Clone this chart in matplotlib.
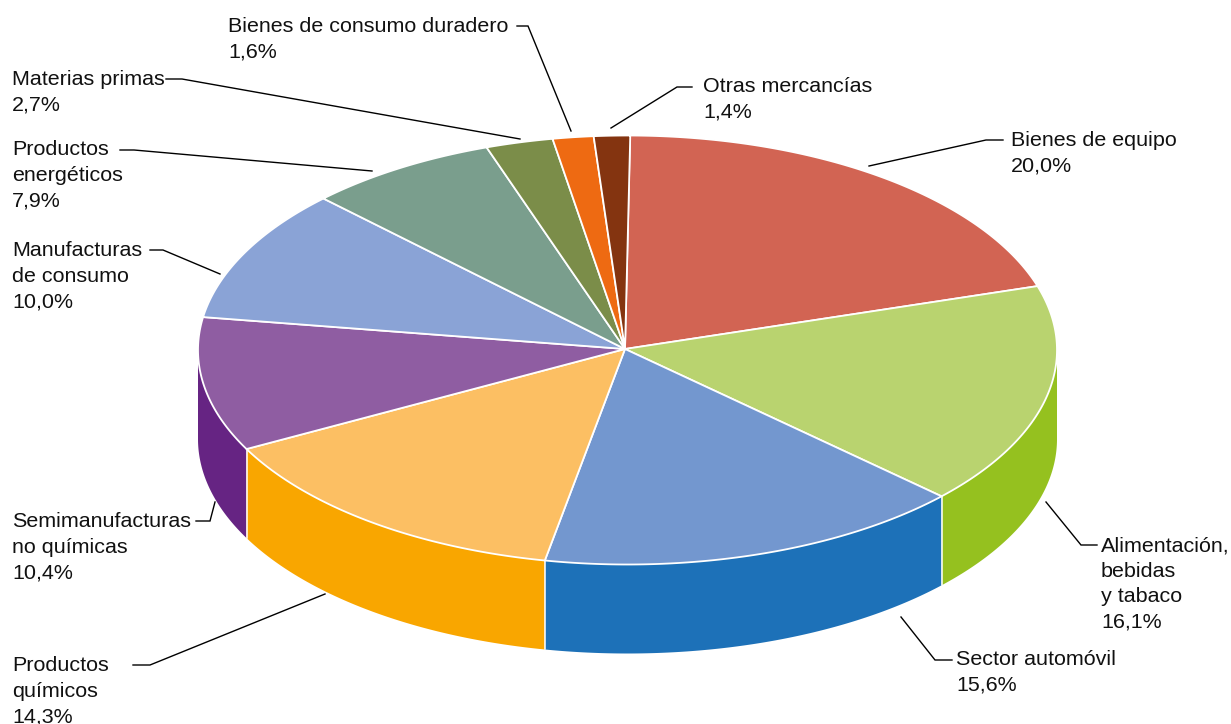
import numpy as np
import matplotlib
matplotlib.use("Agg")
import matplotlib.pyplot as plt
from matplotlib.patches import Polygon

categories = ["Bienes de equipo", "Alimentación,\nbebidas\ny tabaco", "Sector automóvil",
              "Productos\nquímicos", "Semimanufacturas\nno químicas", "Manufacturas\nde consumo",
              "Productos\nenergéticos", "Materias primas", "Bienes de consumo duradero",
              "Otras mercancías"]
values = [20.0, 16.1, 15.6, 14.3, 10.4, 10.0, 7.9, 2.7, 1.6, 1.4]
top_colors = ["#D26453", "#B9D36F", "#7397CF", "#FCBF63", "#8F5DA2",
              "#8AA3D6", "#7A9E8D", "#7B8D49", "#EE6A12", "#843410"]
side_colors = ["#C04A38", "#95C11F", "#1D71B8", "#F9A600", "#662483",
               "#5F7FC0", "#5A8571", "#5F7130", "#C9540A", "#66270A"]

# label anchor (x, first baseline) and leader path, in pixels
label_pos = [(1011, 146), (1101, 551), (956, 665), (12, 671), (12, 527),
             (12, 256), (12, 155), (12, 85), (228, 32), (703, 92)]
leaders = [
    [(869, 166), (986, 140), (1003, 140)],
    [(1046, 502), (1081, 545), (1097, 545)],
    [(901, 617), (935, 660), (952, 660)],
    [(325, 594), (150, 665), (133, 665)],
    [(215, 502), (210, 521), (196, 521)],
    [(220, 274), (163, 250), (150, 250)],
    [(372, 171), (134, 150), (120, 150)],
    [(520, 139), (182, 79), (166, 79)],
    [(571, 131), (528, 26), (517, 26)],
    [(611, 128), (677, 87), (692, 87)],
]

CX, CY, RX, RY, DEPTH = 627.5, 350.0, 429.5, 214.5, 89.0
APEX = (625.0, 349.0)
LINE_H = 25.6

fig = plt.figure(figsize=(12.31, 7.24), dpi=100)
ax = fig.add_axes([0, 0, 1, 1])
ax.set_xlim(0, 1231)
ax.set_ylim(724, 0)
ax.axis("off")


def warp(deg):
    """Perspective foreshortening of the disc: share angle -> drawn angle."""
    return (deg + 2.6 - 2.6 * np.cos(np.radians(deg - 30))
            + 1.8 * np.exp(-((deg - 313) / 22) ** 2))


def rim(deg, dy=0.0):
    r = np.radians(deg)
    return np.column_stack([CX + RX * np.sin(r), CY - RY * np.cos(r) + dy])


edges = np.cumsum([0] + values) / sum(values) * 360
drawn = warp(edges)

# side wall (front half only)
for i in range(len(values)):
    a, b = max(drawn[i], 90), min(drawn[i + 1], 270)
    if b <= a:
        continue
    t = np.linspace(a, b, 120)
    pts = np.vstack([rim(t), rim(t[::-1], DEPTH)])
    ax.add_patch(Polygon(pts, closed=True, fc=side_colors[i], ec="none", zorder=2))
for d in drawn:
    if 90 < d < 270:
        ax.plot(*np.vstack([rim(d), rim(d, DEPTH)]).T, color="white", lw=1.1, zorder=3)

# top face
for i in range(len(values)):
    t = np.linspace(drawn[i], drawn[i + 1], 160)
    pts = np.vstack([[APEX], rim(t)])
    ax.add_patch(Polygon(pts, closed=True, fc=top_colors[i], ec="white", lw=1.3,
                         joinstyle="round", zorder=4))

# leaders and labels
for cat, val, (x, y), path in zip(categories, values, label_pos, leaders):
    ax.plot(*np.array(path).T, color="black", lw=1.0, zorder=5, solid_joinstyle="miter")
    lines = cat.split("\n") + [f"{val:.1f}%".replace(".", ",")]
    for k, ln in enumerate(lines):
        ax.text(x, y + k * LINE_H, ln, ha="left", va="baseline", color="#111111",
                family="Liberation Sans", fontsize=15.45, zorder=6)

fig.savefig("out.png", dpi=100)
